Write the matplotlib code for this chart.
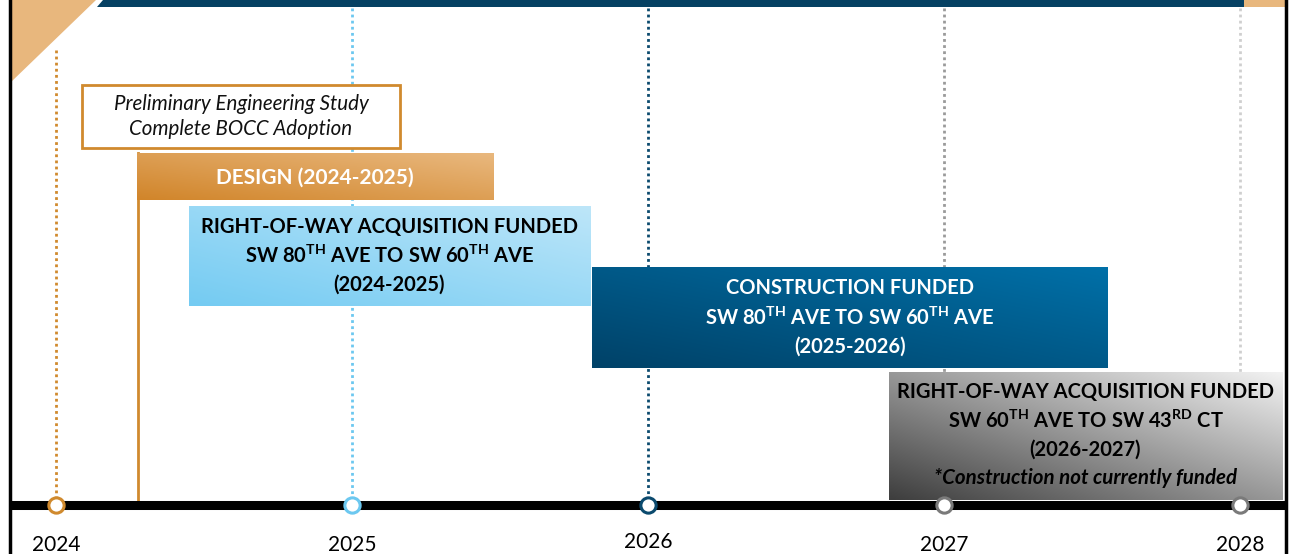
import numpy as np
import matplotlib.pyplot as plt
import matplotlib as mpl
from matplotlib.patches import Polygon, Rectangle
from matplotlib.colors import to_rgb

mpl.rcParams["font.family"] = ["Lato", "DejaVu Sans"]
mpl.rcParams["mathtext.fontset"] = "custom"
mpl.rcParams["mathtext.rm"] = "Lato:bold"
mpl.rcParams["mathtext.bf"] = "Lato:bold"

# 年份与颜色
years = [2024, 2025, 2026, 2027, 2028]
year_colors = ["#D08A2E", "#6CC8F0", "#0B4A6E", "#9A9A9A", "#CFCFCF"]
ring_colors = ["#D08A2E", "#6CC8F0", "#0B4A6E", "#7A7A7A", "#7A7A7A"]
line_tops = [50, 8, 8, 8, 8]

# 各阶段 (起始年, 结束年, 顶部, 底部)
phase_names = ["design", "row1", "construction", "row2"]
phase_start = [2024.274, 2024.449, 2025.811, 2026.814]
phase_end = [2025.480, 2025.804, 2027.554, 2028.142]
phase_top = [153, 206, 267, 372]
phase_bottom = [200, 306, 368, 500]
phase_dark = ["#D1852A", "#74CBF2", "#004268", "#3E3E3E"]
phase_light = ["#E9B87E", "#BDE6F9", "#0070A8", "#F2F2F2"]
phase_text_color = ["white", "black", "white", "black"]
phase_lines = [
    ["DESIGN (2024-2025)"],
    ["RIGHT-OF-WAY ACQUISITION FUNDED",
     r"SW 80$^{\mathrm{TH}}$ AVE TO SW 60$^{\mathrm{TH}}$ AVE",
     "(2024-2025)"],
    ["CONSTRUCTION FUNDED",
     r"SW 80$^{\mathrm{TH}}$ AVE TO SW 60$^{\mathrm{TH}}$ AVE",
     "(2025-2026)"],
    ["RIGHT-OF-WAY ACQUISITION FUNDED",
     r"SW 60$^{\mathrm{TH}}$ AVE TO SW 43$^{\mathrm{RD}}$ CT",
     "(2026-2027)"],
]
row2_note = "*Construction not currently funded"
prelim_lines = ["Preliminary Engineering Study", "Complete BOCC Adoption"]
prelim_span = (2024.088, 2025.162)
study_done = 2024.277

PX_PER_YEAR = 296.0
X0 = 2024 - 56 / PX_PER_YEAR
X1 = 2024 + (1290 - 56) / PX_PER_YEAR
TL_Y = 505


def gradient_box(ax, x0, x1, y0, y1, c_dark, c_light, z=3):
    n = 64
    gx, gy = np.meshgrid(np.linspace(0, 1, n), np.linspace(0, 1, n))
    t = (gx + gy) / 2  # 左下深, 右上浅
    d = np.array(to_rgb(c_dark))
    l = np.array(to_rgb(c_light))
    img = d + (l - d) * t[..., None]
    ax.imshow(img, extent=(x0, x1, y1, y0), origin="lower", aspect="auto",
              interpolation="bilinear", zorder=z)


fig = plt.figure(figsize=(12.9, 5.54), dpi=100)
ax = fig.add_axes([0, 0, 1, 1])
ax.set_xlim(X0, X1)
ax.set_ylim(554, 0)
ax.axis("off")

px = lambda p: X0 + p / PX_PER_YEAR  # 像素 -> 年

# 顶部装饰
ax.add_patch(Polygon([(px(10), 0), (px(96), 0), (px(10), 83)], closed=True,
                     color="#E8B77D", lw=0, zorder=1))
ax.add_patch(Polygon([(px(103), 0), (px(1244), 0), (px(1244), 7), (px(97), 7)],
                     closed=True, color="#064163", lw=0, zorder=1))
ax.add_patch(Rectangle((px(1244), 0), px(1285) - px(1244), 7, color="#E8B77D",
                       lw=0, zorder=1))
ax.plot([px(10), px(10)], [0, 554], color="black", lw=2.5, zorder=6)
ax.plot([px(1286), px(1286)], [0, 554], color="black", lw=2.5, zorder=6)

# 年份虚线
for yr, c, top in zip(years, year_colors, line_tops):
    ax.plot([yr, yr], [top, TL_Y], color=c, lw=2, ls=(0, (1, 1.2)), zorder=2)

# 初步研究框
ax.add_patch(Rectangle((prelim_span[0], 85), prelim_span[1] - prelim_span[0], 63,
                       facecolor="white", edgecolor="#D08A2E", lw=2, zorder=3))
pc = (prelim_span[0] + prelim_span[1]) / 2
for i, s in enumerate(prelim_lines):
    ax.text(pc, 104 + i * 25, s, ha="center", va="center", fontsize=14.8,
            style="italic", color="#111111", zorder=4)
ax.plot([study_done, study_done], [153, TL_Y], color="#D08A2E", lw=2, zorder=3)

# 阶段框
for i in range(len(phase_names)):
    x0, x1 = phase_start[i], phase_end[i]
    y0, y1 = phase_top[i], phase_bottom[i]
    gradient_box(ax, x0, x1, y0, y1, phase_dark[i], phase_light[i])
    cx = (x0 + x1) / 2
    lines = phase_lines[i]
    fs = 14.5
    if i == 0:
        ys = [178]
        cx = 2024.874
        fs = 15
    elif i == 3:
        ys = [392, 421, 450]
    else:
        ys = [(y0 + y1) / 2 + (k - 1) * 29 for k in range(3)]
    for s, yy in zip(lines, ys):
        ax.text(cx, yy, s, ha="center", va="center", fontsize=fs,
                fontweight="bold", color=phase_text_color[i], zorder=5)
    if i == 3:
        ax.text(cx, 478, row2_note, ha="center", va="center", fontsize=14.8,
                fontweight="bold", style="italic", color="black", zorder=5)

# 时间轴
ax.plot([px(10), px(1286)], [TL_Y, TL_Y], color="black", lw=6.5,
        solid_capstyle="butt", zorder=7)
for yr, c in zip(years, ring_colors):
    ax.plot(yr, TL_Y, "o", ms=11, mfc="white", mec=c, mew=2.2, zorder=8)
    ax.text(yr, 542 if yr == 2026 else 545, str(yr), ha="center", va="center",
            fontsize=15, color="black", zorder=8)

fig.savefig("out.png", dpi=100)
